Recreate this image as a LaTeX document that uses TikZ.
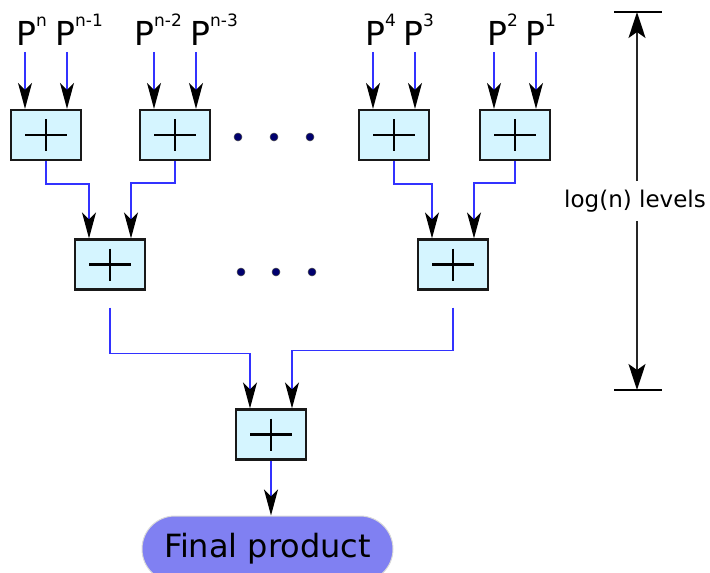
\documentclass[tikz,border=0pt]{standalone}
\usepackage{fontspec}
\setmainfont{DejaVu Sans}
\usetikzlibrary{arrows.meta,calc,positioning}

\definecolor{wireblue}{RGB}{50,50,255}
\definecolor{addfill}{RGB}{213,245,255}
\definecolor{outfill}{RGB}{128,128,242}
\definecolor{dotblue}{RGB}{0,0,110}

% P with a raised exponent
\newcommand{\Pin}[1]{P{\fontsize{17}{17}\selectfont\raisebox{19pt}{#1}}}

\tikzset{
  adder/.style={draw=black!90,line width=2.2pt,fill=addfill,
    minimum width=70pt,minimum height=50pt,inner sep=0pt,
    path picture={
      \draw[line width=2.6pt,black]
        ([xshift=-21pt]path picture bounding box.center) -- ([xshift=21pt]path picture bounding box.center)
        ([yshift=16pt]path picture bounding box.center) -- ([yshift=-16pt]path picture bounding box.center);}},
  wire/.style={draw=wireblue,line width=1.5pt,
    arrows={-Stealth[length=26pt,width=14pt,inset=7pt,black]}},
  plabel/.style={font=\fontsize{33}{36}\selectfont,inner sep=0pt,anchor=base west},
  final/.style={rectangle,rounded corners=33pt,minimum width=251pt,minimum height=66pt,
    fill=outfill,draw=black!15,line width=1pt,font=\fontsize{32}{36}\selectfont},
  levels/.style={font=\fontsize{23}{26}\selectfont,inner xsep=0pt,inner ysep=8.5pt},
  dim/.style={line width=1.8pt,black!85,
    arrows={-Stealth[length=26pt,width=17pt,inset=6pt,black]}},
  bar/.style={line width=2.2pt,black},
  dot/.style={fill=dotblue,draw=black!70,line width=0.5pt}
}

\begin{document}
\begin{tikzpicture}[x=1pt,y=-1pt]

 \useasboundingbox (0,0) rectangle (710,573);

 % adder tree
 \coordinate (A1) at (46,135);
 \coordinate (A2) at (175,135);
 \coordinate (A3) at (394,135);
 \coordinate (A4) at (515,135);
 \coordinate (B1) at (110,264.5);
 \coordinate (B2) at (453,264.5);
 \coordinate (C1) at (271,434.5);

 \node[adder] (a1) at (A1) {};
 \node[adder] (a2) at (A2) {};
 \node[adder] (a3) at (A3) {};
 \node[adder] (a4) at (A4) {};
 \node[adder] (b1) at (B1) {};
 \node[adder] (b2) at (B2) {};
 \node[adder] (c1) at (C1) {};

 \node[final] (fin) at (267.5,549) {Final product};

 % inputs
 \node[plabel] (p1) at (16,45)  {\Pin{n}};
 \node[plabel] (p2) at (55,45)  {\Pin{n-1}};
 \node[plabel] (p3) at (134,45) {\Pin{n-2}};
 \node[plabel] (p4) at (190,45) {\Pin{n-3}};
 \node[plabel] (p5) at (365,45) {\Pin{4}};
 \node[plabel] (p6) at (403,45) {\Pin{3}};
 \node[plabel] (p7) at (487,45) {\Pin{2}};
 \node[plabel] (p8) at (525,45) {\Pin{1}};

 \foreach \b in {a1,a2,a3,a4} {
   \draw[wire] ([xshift=-21pt,yshift=57pt]\b.north) -- ([xshift=-21pt]\b.north);
   \draw[wire] ([xshift=21pt,yshift=57pt]\b.north) -- ([xshift=21pt]\b.north);
 }

 \draw[wire] (a1.south) -- ++(0,23) -| ([xshift=-21pt]b1.north);
 \draw[wire] (a2.south) -- ++(0,22) -| ([xshift=21pt]b1.north);
 \draw[wire] (a3.south) -- ++(0,23) -| ([xshift=-21pt]b2.north);
 \draw[wire] (a4.south) -- ++(0,22) -| ([xshift=21pt]b2.north);

 \draw[wire] ([yshift=-17pt]b1.south) -- ++(0,46) -| ([xshift=-21pt]c1.north);
 \draw[wire] ([yshift=-17pt]b2.south) -- ++(0,43) -| ([xshift=21pt]c1.north);

 \draw[wire] (c1.south) -- (c1.south |- fin.north);

 % dots
 \foreach \x in {238,274,310} \filldraw[dot] (\x,137) circle (4pt);
 \foreach \x in {241,276,312} \filldraw[dot] (\x,272) circle (4pt);

 % depth marker
 \coordinate (ltop) at (637,12);
 \coordinate (lbot) at (637,390);
 \node[levels] (lvl) at (635,201) {log(n) levels};
 \draw[dim] (lvl.north -| ltop) -- (ltop);
 \draw[dim] (lvl.south -| lbot) -- (lbot);
 \draw[bar] ([xshift=-23pt]ltop) -- ([xshift=25pt]ltop);
 \draw[bar] ([xshift=-23pt]lbot) -- ([xshift=25pt]lbot);

\end{tikzpicture}
\end{document}
